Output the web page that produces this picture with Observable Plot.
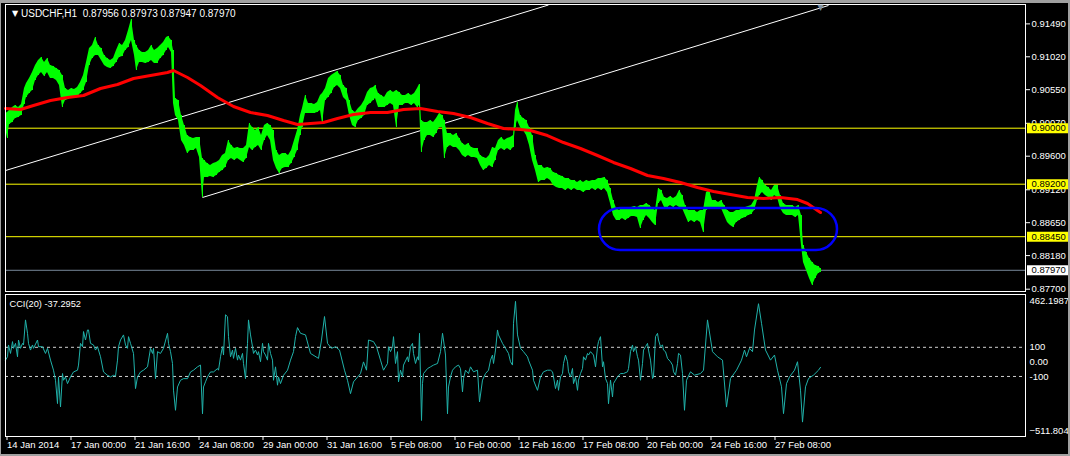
<!DOCTYPE html>
<html><head><meta charset="utf-8">
<script src="https://cdn.jsdelivr.net/npm/d3@7"></script>
<script src="https://cdn.jsdelivr.net/npm/@observablehq/plot@0.6"></script>
<style>
html,body{margin:0;padding:0;background:#000;}
#chart{position:relative;width:1070px;height:456px;background:#000;overflow:hidden;}
#chart svg{position:absolute;left:0;display:block;}
#border{position:absolute;left:0;top:0;width:1070px;height:456px;box-sizing:border-box;border-style:solid;border-color:#a0a0a0;border-width:3px 2px 2px 1px;pointer-events:none;z-index:5;}
</style></head>
<body><div id="chart"><div id="border"></div></div>
<script>
const symbolTitle = "USDCHF,H1";
const lastOHLC = [0.87956, 0.87973, 0.87947, 0.87970];

const priceBars = [0,2,4,7,10,13,16,19,21,24,27,30,33,36,39,42,45,48,51,54,57,60,63,66,69,72,75,78,81,84,87,90,93,96,99,102,105,108,111,114,117,120,123,126,129,131,134,137,140,143,146,149,152,155,158,161,163,166,168,170,173,176,179,182,185,188,191,194,197,199,202,205,208,211,214,217,220,223,226,229,232,235,238,241,244,247,250,253,256,259,262,265,268,271,274,277,280,283,286,289,292,295,297,300,303,306,309,312,315,317,320,323,326,329,332,335,338,341,344,347,350,353,356,359,362,365,368,370,373,376,379,382,385,388,391,394,397,400,403,406,409,412,414,416,419,422,425,428,431,434,437,439,442,445,448,451,454,457,460,463,466,469,472,475,478,481,484,487,490,493,496,499,502,505,508,510,512,515,518,521,524,527,530,533,536,539,542,545,548,551,554,557,560,563,566,569,572,575,578,581,584,587,590,593,596,599,602,605,608,611,614,617,620,623,626,629,632,635,638,641,644,647,650,653,656,659,662,665,668,671,674,677,680,683,686,689,692,695,698,701,704,707,710,713,716,719,722,725,728,731,734,737,740,743,746,749,752,754,757,760,763,766,769,772,775,778,781,784,787,790,793,796,798,801,804,807,810,813,815];
const priceHigh = [0.90210,0.90224,0.90253,0.90295,0.90324,0.90295,0.90338,0.90567,0.90638,0.90710,0.90795,0.90895,0.90967,0.91010,0.90938,0.90995,0.90895,0.90881,0.90853,0.90824,0.90753,0.90567,0.90538,0.90567,0.90553,0.90581,0.90653,0.90753,0.90938,0.91138,0.91181,0.91295,0.91181,0.91138,0.91038,0.90995,0.90967,0.90995,0.91110,0.91210,0.91181,0.91253,0.91395,0.91553,0.91253,0.91181,0.91110,0.91081,0.91081,0.91110,0.91181,0.91110,0.91138,0.91181,0.91224,0.91295,0.91310,0.91253,0.91110,0.90424,0.90395,0.90181,0.90038,0.89895,0.89867,0.89853,0.89867,0.89867,0.89567,0.89538,0.89495,0.89467,0.89495,0.89510,0.89538,0.89610,0.89638,0.89824,0.89753,0.89710,0.89724,0.89710,0.89710,0.89753,0.90067,0.90010,0.89967,0.90010,0.89895,0.90038,0.90067,0.90038,0.89967,0.89681,0.89610,0.89638,0.89638,0.89610,0.89681,0.89824,0.89967,0.90181,0.90281,0.90467,0.90353,0.90353,0.90338,0.90367,0.90467,0.90495,0.90567,0.90710,0.90753,0.90781,0.90810,0.90753,0.90610,0.90567,0.90395,0.90253,0.90224,0.90281,0.90324,0.90395,0.90510,0.90567,0.90581,0.90610,0.90495,0.90467,0.90438,0.90510,0.90538,0.90510,0.90538,0.90510,0.90467,0.90467,0.90495,0.90467,0.90495,0.90567,0.90624,0.90110,0.90081,0.90081,0.90110,0.90081,0.90138,0.90210,0.90181,0.90110,0.89924,0.89924,0.89895,0.89924,0.89853,0.89781,0.89753,0.89781,0.89724,0.89710,0.89710,0.89610,0.89581,0.89567,0.89610,0.89724,0.89710,0.89824,0.89867,0.89824,0.89853,0.89867,0.89895,0.90253,0.90367,0.90181,0.90138,0.90110,0.90010,0.89895,0.89610,0.89467,0.89467,0.89424,0.89438,0.89424,0.89367,0.89353,0.89324,0.89310,0.89281,0.89281,0.89253,0.89253,0.89224,0.89253,0.89224,0.89253,0.89238,0.89253,0.89253,0.89281,0.89281,0.89295,0.89253,0.89138,0.88967,0.88853,0.88824,0.88867,0.88853,0.88853,0.88867,0.88881,0.88867,0.88895,0.88895,0.88924,0.88895,0.88853,0.88824,0.89138,0.89110,0.89010,0.88995,0.89024,0.88995,0.89024,0.89110,0.89038,0.88895,0.88824,0.88824,0.88824,0.88795,0.88824,0.88824,0.89081,0.89110,0.88967,0.88967,0.88938,0.88967,0.88895,0.88824,0.88795,0.88795,0.88824,0.88824,0.88853,0.88867,0.88881,0.88895,0.88967,0.89181,0.89295,0.89253,0.89181,0.89153,0.89110,0.89181,0.89181,0.89038,0.88924,0.88895,0.88895,0.88895,0.88867,0.88895,0.88753,0.88324,0.88224,0.88138,0.88081,0.88038,0.88024,0.87995];
const priceLow = [0.90010,0.89853,0.90053,0.90081,0.90138,0.90153,0.90181,0.90338,0.90438,0.90495,0.90538,0.90681,0.90753,0.90795,0.90738,0.90795,0.90710,0.90710,0.90681,0.90610,0.90295,0.90395,0.90410,0.90438,0.90424,0.90438,0.90495,0.90538,0.90653,0.90895,0.90995,0.91038,0.91038,0.90967,0.90895,0.90867,0.90853,0.90881,0.90938,0.91010,0.91024,0.91110,0.91153,0.91253,0.91038,0.90824,0.90938,0.90938,0.90924,0.90938,0.90967,0.90924,0.90924,0.90995,0.91038,0.91110,0.91153,0.91081,0.90353,0.90181,0.90110,0.89824,0.89753,0.89638,0.89681,0.89681,0.89710,0.89581,0.89010,0.89295,0.89295,0.89310,0.89295,0.89324,0.89367,0.89395,0.89438,0.89538,0.89567,0.89538,0.89567,0.89538,0.89510,0.89567,0.89724,0.89681,0.89724,0.89753,0.89681,0.89824,0.89895,0.89824,0.89538,0.89424,0.89353,0.89424,0.89438,0.89438,0.89495,0.89581,0.89681,0.89895,0.90010,0.90210,0.90210,0.90210,0.90210,0.90224,0.90253,0.90067,0.90395,0.90438,0.90495,0.90581,0.90610,0.90567,0.90438,0.90395,0.90181,0.90038,0.90010,0.90110,0.90138,0.90181,0.90324,0.90353,0.90395,0.90424,0.90295,0.90295,0.90295,0.90324,0.90353,0.90324,0.90010,0.90324,0.90324,0.90353,0.90353,0.90324,0.90353,0.90295,0.90324,0.89653,0.89824,0.89895,0.89895,0.89867,0.89924,0.90010,0.90010,0.89567,0.89724,0.89753,0.89724,0.89724,0.89681,0.89610,0.89581,0.89610,0.89581,0.89581,0.89567,0.89467,0.89395,0.89424,0.89467,0.89438,0.89538,0.89681,0.89710,0.89681,0.89710,0.89681,0.89724,0.90010,0.90110,0.90010,0.89967,0.89895,0.89753,0.89538,0.89395,0.89224,0.89253,0.89253,0.89281,0.89253,0.89181,0.89153,0.89138,0.89138,0.89110,0.89138,0.89110,0.89138,0.89110,0.89110,0.89081,0.89110,0.89110,0.89138,0.89110,0.89138,0.89110,0.89138,0.89081,0.88924,0.88753,0.88681,0.88681,0.88710,0.88681,0.88710,0.88738,0.88738,0.88724,0.88567,0.88681,0.88753,0.88710,0.88653,0.88610,0.88924,0.88967,0.88867,0.88867,0.88895,0.88867,0.88895,0.88867,0.88853,0.88753,0.88653,0.88681,0.88653,0.88681,0.88653,0.88510,0.88824,0.88853,0.88853,0.88853,0.88853,0.88853,0.88753,0.88653,0.88610,0.88581,0.88653,0.88681,0.88710,0.88724,0.88753,0.88767,0.88824,0.88967,0.89038,0.89081,0.89038,0.89010,0.88967,0.89038,0.89010,0.88853,0.88781,0.88753,0.88753,0.88753,0.88724,0.88753,0.88324,0.88081,0.87967,0.87853,0.87753,0.87853,0.87924,0.87938];

const maBars = [0,15,28,45,62,78,95,112,128,145,162,168,182,195,212,228,245,262,278,292,305,318,332,348,365,382,398,415,432,448,465,482,498,515,525,542,558,575,592,608,625,642,658,675,692,708,725,742,758,775,792,802,812,815];
const maValues = [0.90281,0.90267,0.90324,0.90395,0.90438,0.90467,0.90567,0.90624,0.90710,0.90753,0.90795,0.90824,0.90724,0.90610,0.90438,0.90310,0.90224,0.90181,0.90110,0.90053,0.90067,0.90081,0.90138,0.90195,0.90224,0.90224,0.90267,0.90281,0.90238,0.90210,0.90153,0.90067,0.89995,0.89981,0.89967,0.89895,0.89795,0.89710,0.89610,0.89510,0.89424,0.89324,0.89281,0.89224,0.89153,0.89095,0.89053,0.89010,0.88995,0.89010,0.88981,0.88924,0.88824,0.88795];

const levelLines = [0.90000, 0.89200, 0.88450];
const currentPrice = 0.87970;
const priceTicks = [0.91490, 0.91020, 0.90550, 0.90070, 0.89600, 0.89120, 0.88650, 0.88180, 0.87700];
const priceDomain = [0.87667, 0.91767];

const channelStartBar = [0, 197];
const channelStartPrice = [0.89395, 0.89010];
const channelEndBar = [543, 823];
const channelEndPrice = [0.91760, 0.91753];

const boxBars = [594, 832];
const boxPrices = [0.88253, 0.88853];

const cciBars = [0,2,3,5,7,8,10,12,13,15,17,18,20,22,23,25,27,28,32,33,37,40,42,45,48,50,52,53,55,57,58,60,62,65,68,72,73,75,77,78,80,82,83,85,88,90,92,95,98,102,105,108,110,112,113,115,118,120,122,123,125,128,130,132,135,138,142,145,147,148,150,152,155,158,162,163,165,167,168,170,172,175,178,182,185,188,192,195,197,198,200,202,205,208,212,213,215,217,218,220,222,223,225,227,228,230,232,233,235,237,238,240,242,243,245,247,248,250,252,253,255,257,258,260,262,263,265,267,268,270,272,273,275,278,282,285,288,290,292,295,300,305,313,316,319,322,326,330,334,339,342,345,348,355,358,361,363,368,371,375,378,382,383,385,387,388,390,392,393,395,397,398,402,403,405,407,408,410,412,413,414,416,417,418,422,425,428,432,435,437,438,440,442,443,445,447,450,453,455,457,458,460,463,465,468,472,474,477,480,483,485,487,488,490,492,493,497,500,503,505,507,508,510,512,515,518,522,523,527,528,532,535,538,542,545,547,548,550,552,553,555,557,558,560,562,563,565,567,568,570,572,573,575,577,578,580,582,583,585,588,590,592,593,595,597,598,600,602,603,605,607,608,610,612,615,618,622,623,625,627,628,630,632,633,635,637,638,640,642,643,645,647,648,650,652,653,655,657,658,660,662,665,667,668,670,672,673,675,677,679,681,685,689,695,698,702,707,712,717,721,725,731,736,739,741,744,747,749,753,756,760,765,769,772,776,778,781,784,789,792,795,797,800,803,808,813,815];
const cciValues = [12,35,116,58,139,93,127,35,150,93,127,116,288,196,127,81,116,93,150,104,104,58,93,12,-57,-126,-286,-103,-309,-80,-126,-103,-149,-103,-69,-57,-22,127,104,208,150,219,219,127,116,81,104,35,-69,-92,-103,-92,-98,12,104,150,185,116,93,173,127,58,-183,-103,-69,-57,-34,93,58,93,-115,70,58,93,196,127,70,-11,-194,-332,-172,-126,-115,-115,-69,-57,-34,-22,-356,-172,-137,-103,-69,-69,-46,-57,35,104,47,323,310,173,35,81,24,93,12,47,12,58,-11,-115,127,288,185,104,58,81,47,70,1,127,70,47,12,127,58,12,-126,-34,-160,-103,-149,-92,-57,12,70,173,235,196,185,58,24,150,311,127,93,104,81,-57,-126,-218,-137,-80,0,-57,150,139,104,12,-57,-11,104,70,104,173,-11,70,-137,-57,-103,-22,35,0,104,127,58,-11,35,12,196,-402,-149,-80,-46,-34,-22,-11,70,196,150,47,-356,-172,-103,-57,-34,-22,-46,-206,-115,-57,-80,-34,-68,-57,-275,-125,-80,-57,12,47,-11,81,219,185,127,93,58,1,-22,265,415,185,93,70,35,12,-57,-126,-195,-103,-68,-57,-57,-68,-103,-183,-125,-195,-103,-80,-11,47,1,-68,-103,-45,-149,-103,-195,-125,-80,-45,35,12,58,47,70,47,-34,104,139,173,-34,1,-114,-148,-287,-125,-241,-148,-125,-103,-80,-80,-68,-45,70,116,70,104,35,12,-126,-11,81,104,127,81,12,-114,-103,173,196,150,104,116,81,70,24,1,-22,-68,-91,-11,58,47,-80,-332,-126,-68,-91,-80,-57,288,70,35,12,-310,-114,-57,12,81,35,93,70,219,399,265,81,12,47,-57,-171,-355,-149,-103,-57,1,-194,-413,-171,-114,-91,-57,-37.2952];
const cciLevels = [100, -100];
const cciMax = 462.1987, cciMin = -511.8047;
const cciLast = -37.2952;
const cciName = "CCI(20)";
const cciAxisValues = [100, 0, -100];
const cciAxisLabels = ["100", "0.00", "-100"];

const timeTickBars = [0,64,128,192,256,320,384,448,512,576,640,704,768];
const timeTickLabels = ["14 Jan 2014","17 Jan 00:00","21 Jan 16:00","24 Jan 08:00","29 Jan 00:00","31 Jan 16:00","5 Feb 08:00","10 Feb 00:00","12 Feb 16:00","17 Feb 08:00","20 Feb 00:00","24 Feb 16:00","27 Feb 08:00"];
const barDomain = [0, 1020];

// ---- build tables ----
const n = Math.min(priceBars.length, priceHigh.length, priceLow.length);
const price = d3.range(n).map(i => ({bar: priceBars[i], high: priceHigh[i], low: priceLow[i]}));
const ma = maBars.map((b, i) => ({bar: b, value: maValues[i]}));
const channels = channelStartBar.map((b, i) => ({x1: b, y1: channelStartPrice[i], x2: channelEndBar[i], y2: channelEndPrice[i]}));
const box = [{x1: boxBars[0], x2: boxBars[1], y1: boxPrices[0], y2: boxPrices[1]}];
const nc = Math.min(cciBars.length, cciValues.length);
const cci = d3.range(nc).map(i => ({bar: cciBars[i], value: cciValues[i]}));

const fmt5 = d3.format(".5f");
const font = '"Liberation Sans", Arial, sans-serif';
const baseStyle = {background: "black", color: "white", fontFamily: font, fontSize: "9.5px", overflow: "visible"};
const W = 1070;

const mainPlot = Plot.plot({
  width: W, height: 293,
  marginLeft: 5, marginRight: 45, marginTop: 4, marginBottom: 2,
  style: baseStyle,
  x: {domain: barDomain, axis: null},
  y: {domain: priceDomain},
  marks: [
    Plot.ruleY(levelLines, {stroke: "#ffff00"}),
    Plot.ruleY([currentPrice], {stroke: "#778899"}),
    Plot.link(channels, {x1: "x1", y1: "y1", x2: "x2", y2: "y2", stroke: "white", strokeWidth: 1}),
    Plot.areaY(price, {x: "bar", y1: "low", y2: "high", fill: "#00ff00"}),
    Plot.ruleX(price, {x: "bar", y1: "low", y2: "high", stroke: "#00ff00", strokeWidth: 1}),
    Plot.line(ma, {x: "bar", y: "value", stroke: "#ff0000", strokeWidth: 3}),
    Plot.rect(box, {x1: "x1", x2: "x2", y1: "y1", y2: "y2", stroke: "#0000ff", strokeWidth: 2.5, fill: "none", rx: 21}),
    Plot.frame({stroke: "white"}),
    Plot.axisY(priceTicks, {anchor: "right", tickSize: 4, tickPadding: 2, tickFormat: fmt5, color: "white", label: null}),
    Plot.ruleY(levelLines, {stroke: "#ffff00", strokeWidth: 10, insetLeft: 1022, insetRight: -43}),
    Plot.text(levelLines, {y: d => d, text: d => fmt5(d), frameAnchor: "right", dx: 6, textAnchor: "start", fill: "black"}),
    Plot.ruleY([currentPrice], {stroke: "white", strokeWidth: 10, insetLeft: 1022, insetRight: -43}),
    Plot.text([currentPrice], {y: d => d, text: d => fmt5(d), frameAnchor: "right", dx: 6, textAnchor: "start", fill: "black"}),
    Plot.text(["\u25BC"], {frameAnchor: "top-left", dx: 6.5, dy: 9, lineAnchor: "middle", fill: "white", fontSize: 8, fontFamily: "DejaVu Sans"}),
    Plot.text([`${symbolTitle}\u00a0\u00a0${lastOHLC.map(fmt5).join(" ")}`], {frameAnchor: "top-left", dx: 15.5, dy: 9, lineAnchor: "middle", textAnchor: "start", fill: "white", fontSize: 10}),
    Plot.text([priceBars[n - 1]], {x: d => d, frameAnchor: "top", text: () => "\u25BC", dy: 2.5, lineAnchor: "middle", fill: "#8090a0", fontSize: 8, fontFamily: "DejaVu Sans"})
  ]
});
mainPlot.style.top = "0px";

const cciPlot = Plot.plot({
  width: W, height: 163,
  marginLeft: 5, marginRight: 45, marginTop: 1, marginBottom: 20,
  style: baseStyle,
  x: {domain: barDomain},
  y: {domain: [cciMin, cciMax], axis: null},
  marks: [
    Plot.ruleY(cciLevels, {stroke: "#d0d0d0", strokeDasharray: "3,3"}),
    Plot.line(cci, {x: "bar", y: "value", stroke: "#20b2aa", strokeWidth: 1}),
    Plot.frame({stroke: "white"}),
    Plot.axisX(timeTickBars, {tickFormat: d => timeTickLabels[timeTickBars.indexOf(d)], tickSize: 4, tickPadding: 1, textAnchor: "start", dx: 1.5, color: "white", fontSize: 9.5, label: null}),
    Plot.text(cciAxisValues, {y: d => d, text: (d, i) => cciAxisLabels[i], frameAnchor: "right", dx: 4, textAnchor: "start", fill: "white"}),
    Plot.text([cciMax], {y: d => d, text: d => d3.format(".4f")(d), frameAnchor: "right", dx: 4, dy: 6, textAnchor: "start", fill: "white"}),
    Plot.text([cciMin], {y: d => d, text: d => d3.format(".4f")(d), frameAnchor: "right", dx: 4, dy: -6, textAnchor: "start", fill: "white"}),
    Plot.text([`${cciName} ${cciLast}`], {frameAnchor: "top-left", dx: 4, dy: 9.5, lineAnchor: "middle", textAnchor: "start", fill: "white", fontSize: 9.25})
  ]
});
cciPlot.style.top = "293px";

const chart = document.getElementById("chart");
chart.appendChild(mainPlot);
chart.appendChild(cciPlot);
if (priceBars.length !== priceHigh.length || priceBars.length !== priceLow.length || cciBars.length !== cciValues.length) {
  const warn = document.createElement("div");
  warn.style.cssText = "position:absolute;left:300px;top:200px;color:red;font:14px sans-serif;z-index:9";
  warn.textContent = `LEN MISMATCH p:${priceBars.length}/${priceHigh.length}/${priceLow.length} c:${cciBars.length}/${cciValues.length}`;
  chart.appendChild(warn);
}
</script>
</body></html>
